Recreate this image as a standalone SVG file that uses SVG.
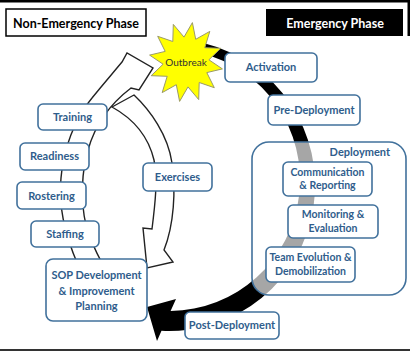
<svg xmlns="http://www.w3.org/2000/svg" width="410" height="353" viewBox="0 0 410 353">
<style>
.box{fill:#fff;stroke:#41719C;stroke-width:1.6}
.t{font-family:Lato,"Liberation Sans",sans-serif;font-weight:bold;font-size:11px;fill:#2F5D8C;text-anchor:middle}
.st{font-size:10.5px}
.ph{font-family:Lato,"Liberation Sans",sans-serif;font-weight:bold;font-size:12.5px;text-anchor:middle}
.wa{fill:#fff;stroke:#222;stroke-width:1.4;stroke-linejoin:miter}
</style>
<rect width="410" height="353" fill="#fff"/>
<rect x="0" y="0" width="410" height="2.5" fill="#000"/>
<rect x="407.5" y="0" width="2.5" height="36" fill="#000"/>
<rect x="0" y="349" width="410" height="2" fill="#333"/>
<g id="connectors">
<path id="emergency-arc" d="M204.3,43.3 A146,146 0 0 1 161.5,330.8 L157,341 L147,307 L176,299 L170.6,311 A131,131 0 0 0 200.7,52.9 Z" fill="#000"/>
<path id="arrow-outer" class="wa" d="M78,265 C65,235 58,205 61,178 C63,150 75,118 92,98 C100,88 112,74 122,62 L127,53 L153,68 L139,90 L131,88 C110,104 95,125 88,150 C82,170 80,200 86,225 C90,240 96,252 103,265 Z"/>
<path id="arrow-inner" class="wa" d="M112,107 L134,95 C150,110 168,135 172,163 C176,190 174,225 164,250 L173,262 L147,268 L143,228 L152,229 C155,205 158,180 154,160 C148,135 132,118 112,107 Z"/>
</g>
<g id="non-emergency-phase">
<rect x="6" y="9" width="140" height="27" fill="#fff" stroke="#000" stroke-width="1.5"/>
<text class="ph" x="76" y="27.5" fill="#000">Non-Emergency Phase</text>
</g>
<g id="emergency-phase">
<rect x="266" y="9" width="137" height="27" fill="#000"/>
<text class="ph" x="335" y="27.5" fill="#fff">Emergency Phase</text>
</g>
<g id="outbreak">
<polygon points="192.4,22.6 195.7,39.3 209.8,31.4 204.8,47.7 220.8,48.3 208.9,59.8 222.4,68.9 206.8,72.6 214.3,87.7 199.2,82.5 198.7,99.6 188,86.9 179.6,101.4 176.3,84.7 162.2,92.6 167.2,76.3 151.2,75.7 163.1,64.2 149.6,55.1 165.2,51.4 157.7,36.3 172.8,41.5 173.3,24.4 184,37.1" fill="#FFFF00" stroke="#9A9A6A" stroke-width="1"/>
<text x="186" y="66" font-family="Lato,'Liberation Sans',sans-serif" font-size="10px" fill="#333" text-anchor="middle">Outbreak</text>
</g>
<g id="deployment">
<rect x="252" y="142" width="154" height="153" rx="17" fill="#fff" fill-opacity="0.65" stroke="#41719C" stroke-width="1.6"/>
<text class="t" x="390" y="156" style="text-anchor:end">Deployment</text>
</g>
<g id="activation"><rect class="box" x="225" y="53" width="92" height="29" rx="5"/><text class="t" x="271" y="71">Activation</text></g>
<g id="pre-deployment"><rect class="box" x="268" y="95" width="92" height="30" rx="5"/><text class="t" x="314" y="114">Pre-Deployment</text></g>
<g id="communication"><rect class="box" x="283" y="162" width="89" height="34" rx="5"/><text class="t st" x="327.5" y="176">Communication</text><text class="t st" x="327.5" y="189">&amp; Reporting</text></g>
<g id="monitoring"><rect class="box" x="288" y="205" width="90" height="33" rx="5"/><text class="t st" x="333" y="218">Monitoring &amp;</text><text class="t st" x="333" y="232">Evaluation</text></g>
<g id="team-evolution"><rect class="box" x="266" y="247" width="89" height="35" rx="5"/><text class="t st" x="310.5" y="261">Team Evolution &amp;</text><text class="t st" x="310.5" y="275">Demobilization</text></g>
<g id="post-deployment"><rect class="box" x="185" y="312" width="94" height="27" rx="5"/><text class="t" x="232" y="329">Post-Deployment</text></g>
<g id="training"><rect class="box" x="38" y="104" width="69" height="26" rx="5"/><text class="t" x="72.5" y="121">Training</text></g>
<g id="readiness"><rect class="box" x="20" y="143" width="69" height="27" rx="5"/><text class="t" x="54.5" y="160">Readiness</text></g>
<g id="rostering"><rect class="box" x="17" y="182" width="69" height="27" rx="5"/><text class="t" x="51.5" y="200">Rostering</text></g>
<g id="staffing"><rect class="box" x="31" y="221" width="68" height="26" rx="5"/><text class="t" x="65" y="238">Staffing</text></g>
<g id="exercises"><rect class="box" x="143" y="163" width="69" height="28" rx="5"/><text class="t" x="177.5" y="181">Exercises</text></g>
<g id="sop"><rect class="box" x="46" y="259" width="101" height="62" rx="7"/><text class="t" x="96.5" y="279">SOP Development</text><text class="t" x="96.5" y="295">&amp; Improvement</text><text class="t" x="96.5" y="310">Planning</text></g>
</svg>
